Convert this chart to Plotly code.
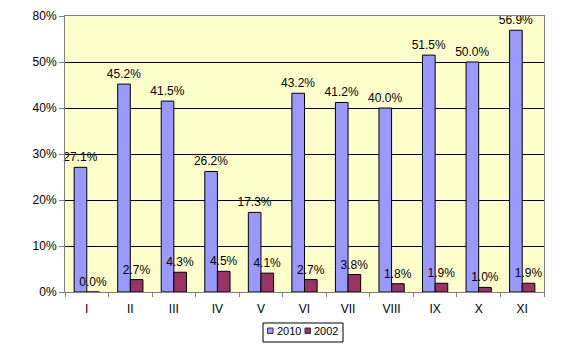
import plotly.graph_objects as go

categories = ["I", "II", "III", "IV", "V", "VI", "VII", "VIII", "IX", "X", "XI"]
values_2010 = [27.1, 45.2, 41.5, 26.2, 17.3, 43.2, 41.2, 40.0, 51.5, 50.0, 56.9]
values_2002 = [0.0, 2.7, 4.3, 4.5, 4.1, 2.7, 3.8, 1.8, 1.9, 1.0, 1.9]
ytick_vals = [0, 10, 20, 30, 40, 50, 60]
ytick_text = ["0%", "10%", "20%", "30%", "40%", "50%", "80%"]
series_names = ["2010", "2002"]
series_colors = ["#9999FF", "#993366"]

FAM = "Liberation Sans, Arial, sans-serif"
font = dict(family=FAM, size=12, color="black")
label_font = dict(family=FAM, size=12, color="black")
legend_font = dict(family=FAM, size=11, color="black")

fig = go.Figure()
for name, vals, col in zip(series_names, [values_2010, values_2002], series_colors):
    fig.add_trace(go.Bar(
        x=categories, y=vals, name=name, showlegend=False,
        marker=dict(color=col, line=dict(color="black", width=1)),
        text=[f"{v:.1f}%" for v in vals], textposition="outside",
        textfont=label_font, cliponaxis=False,
    ))

# compact legend drawn below the plot (Excel style)
shapes = [dict(type="rect", xref="paper", yref="paper", x0=0.4134, x1=0.5804,
               y0=-0.1812, y1=-0.1123, line=dict(color="black", width=1),
               fillcolor="white", layer="above")]
annotations = []
sq_x = [0.4228, 0.5010]
tx_x = [0.4374, 0.5157]
for name, col, sx, tx in zip(series_names, series_colors, sq_x, tx_x):
    shapes.append(dict(type="rect", xref="paper", yref="paper", x0=sx, x1=sx + 0.0115,
                       y0=-0.1504, y1=-0.1304, line=dict(color="#333333", width=1),
                       fillcolor=col, layer="above"))
    annotations.append(dict(text=name, xref="paper", yref="paper", x=tx, y=-0.1430,
                            xanchor="left", yanchor="middle", showarrow=False,
                            font=legend_font))

fig.update_layout(
    width=580, height=359,
    margin=dict(l=57, r=44, t=8, b=75, autoexpand=False),
    paper_bgcolor="white",
    plot_bgcolor="#FFFFCC",
    barmode="group",
    bargap=0.42, bargroupgap=0,
    font=font,
    showlegend=False,
    uniformtext=dict(minsize=12, mode="show"),
    shapes=shapes,
    annotations=annotations,
    xaxis=dict(showline=True, linecolor="#808080", mirror=True,
               ticks="outside", tickson="boundaries", ticklen=4, tickcolor="#808080",
               ticklabelstandoff=6,
               showgrid=False, tickfont=font, automargin=False),
    yaxis=dict(range=[0, 60], tickvals=ytick_vals, ticktext=ytick_text,
               showline=True, linecolor="#808080", mirror=True,
               ticks="outside", ticklen=5, tickcolor="#808080",
               showgrid=True, gridcolor="black", gridwidth=1,
               zeroline=False, tickfont=font, automargin=False),
)

fig.write_html("out.html")
